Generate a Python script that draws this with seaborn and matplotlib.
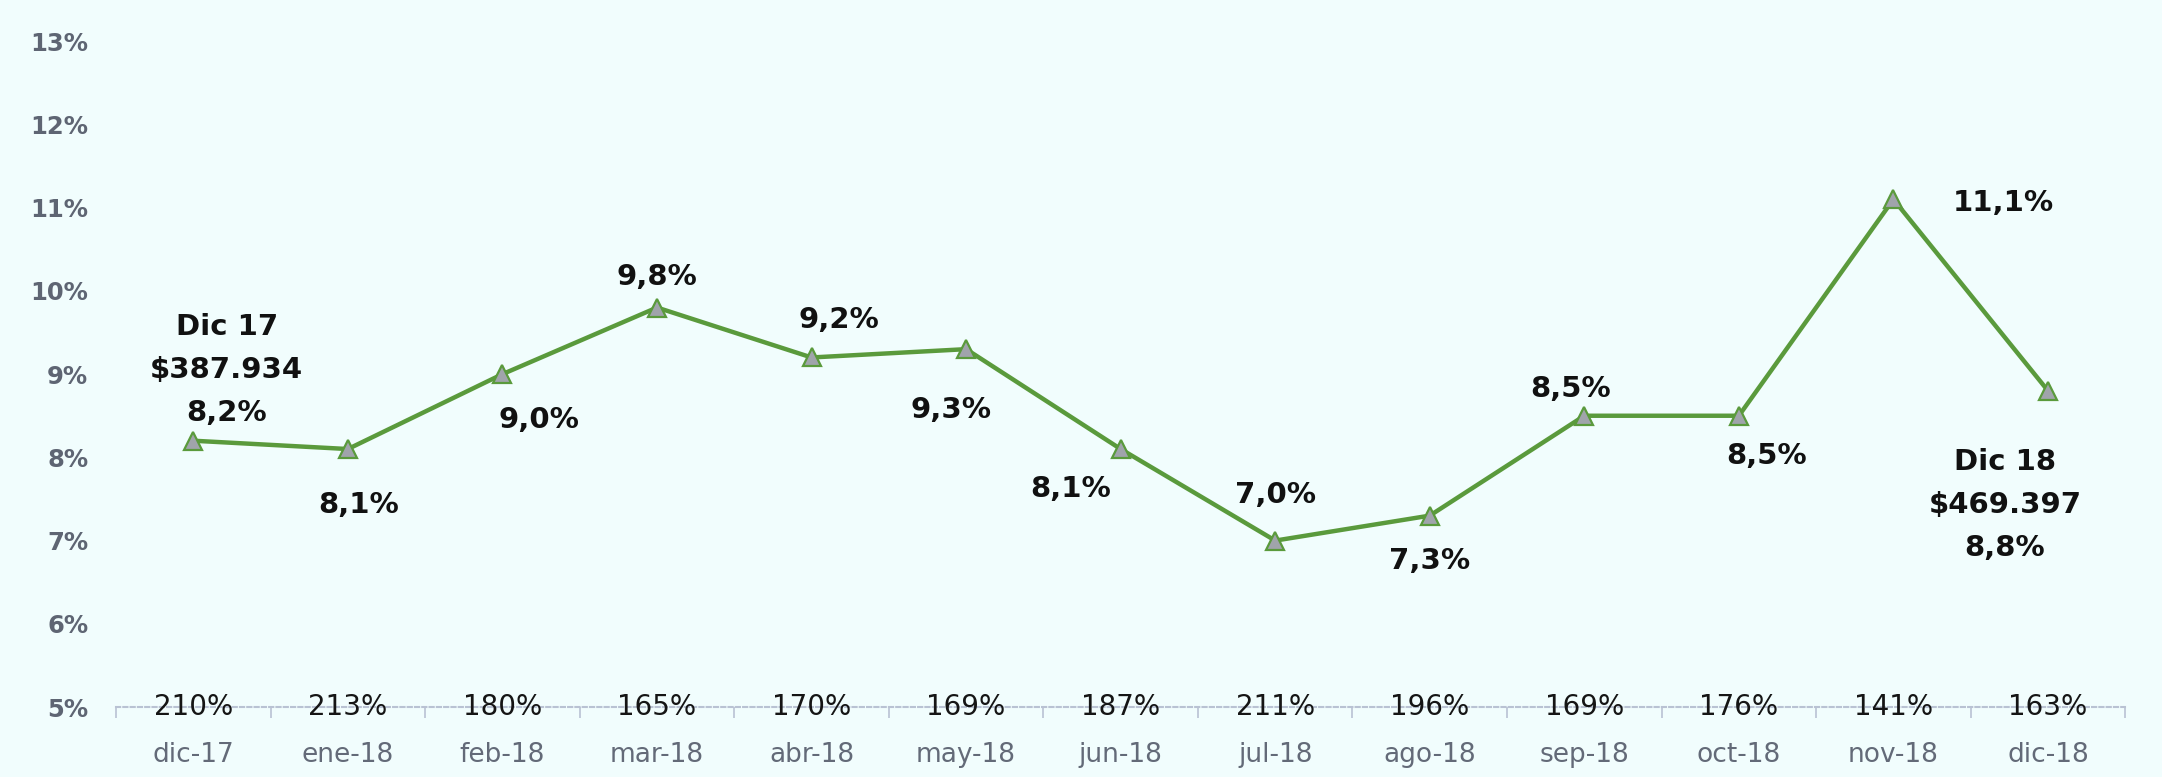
import numpy as np
import pandas as pd
import matplotlib
matplotlib.use("Agg")
import matplotlib.pyplot as plt
import seaborn as sns

# -----------------------------
# Data
# -----------------------------
months = ["dic-17", "ene-18", "feb-18", "mar-18", "abr-18", "may-18", "jun-18",
          "jul-18", "ago-18", "sep-18", "oct-18", "nov-18", "dic-18"]
rate = [8.2, 8.1, 9.0, 9.8, 9.2, 9.3, 8.1, 7.0, 7.3, 8.5, 8.5, 11.1, 8.8]
coverage = ["210%", "213%", "180%", "165%", "170%", "169%", "187%",
            "211%", "196%", "169%", "176%", "141%", "163%"]
first_label = ["Dic 17", "$387.934"]
last_label = ["Dic 18", "$469.397"]

# label placement (offset points from each marker)
offsets = [(24, 51), (8, -40), (26, -33), (0, 22), (20, 27), (-11, -44), (-36, -29),
           (0, 33), (0, -33), (-10, 19), (20, -29), (79, -3), (-31, -82)]

df = pd.DataFrame({"pos": np.arange(len(months)), "rate": rate})

bg = "#f1fdfd"
green = "#5a9a3c"
axis_col = "#b9c2d3"

sns.set_style("white")
plt.rcParams["font.family"] = ["DejaVu Sans"]

fig = plt.figure(figsize=(21.62, 7.77), dpi=100, facecolor=bg)
ax = fig.add_axes([0.0537, 0.090, 0.9293, 0.857])
ax.set_facecolor(bg)

sns.lineplot(data=df, x="pos", y="rate", ax=ax, color=green, linewidth=3.2,
             marker="^", markersize=13, markerfacecolor="#a0a4ab",
             markeredgecolor=green, markeredgewidth=1.6, sort=False)

# -----------------------------
# Data labels
# -----------------------------
for i, v in enumerate(rate):
    txt = f"{v:.1f}".replace(".", ",") + "%"
    if i == 0:
        txt = "\n".join(first_label + [txt])
    elif i == len(rate) - 1:
        txt = "\n".join(last_label + [txt])
    ax.annotate(txt, xy=(i, v), xytext=offsets[i], textcoords="offset points",
                ha="center", va="center", fontsize=21, fontweight="bold",
                color="#111111", linespacing=1.68)

# coverage values sitting on the axis line
for i, c in enumerate(coverage):
    ax.text(i, 5, c, ha="center", va="center", fontsize=20, color="#151515",
            clip_on=False, zorder=5)

# -----------------------------
# Axes styling
# -----------------------------
ax.set_xlim(-0.5, len(months) - 0.5)
ax.set_ylim(5, 13)
ax.set_xticks(np.arange(len(months)))
ax.set_xticklabels(months, fontsize=19, color="#636a78")
ax.set_xticks(np.arange(-0.5, len(months), 1), minor=True)
ax.tick_params(axis="x", which="major", length=0, pad=25)
ax.tick_params(axis="x", which="minor", bottom=True, length=8, width=1.2,
               color=axis_col, direction="out")
ax.set_yticks(np.arange(5, 14, 1))
ax.set_yticklabels([f"{t}%" for t in range(5, 14)], fontsize=17.5,
                   fontweight="bold", color="#5e6573")
ax.tick_params(axis="y", length=0, pad=20)
ax.set_xlabel("")
ax.set_ylabel("")

for s in ["top", "right", "left"]:
    ax.spines[s].set_visible(False)
ax.spines["bottom"].set_color(axis_col)
ax.spines["bottom"].set_linestyle((0, (2, 1.5)))
ax.spines["bottom"].set_linewidth(1.5)
ax.grid(False)

fig.savefig("out.png", dpi=100, facecolor=bg)
